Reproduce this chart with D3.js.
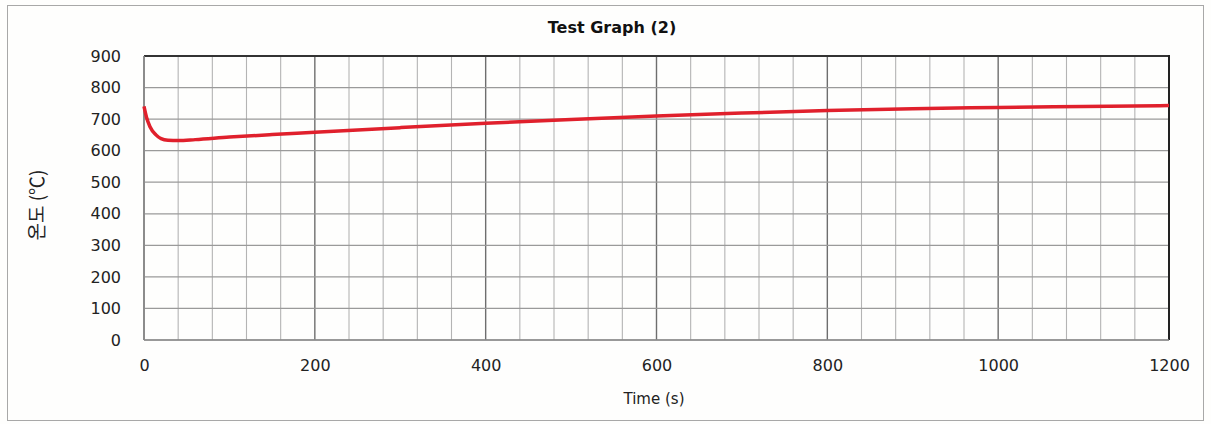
<!DOCTYPE html>
<html><head><meta charset="utf-8">
<script src="https://cdn.jsdelivr.net/npm/d3@7"></script>
<style>body{margin:0;background:#fff;} svg{display:block;}</style>
</head><body>
<svg id="c" width="1211" height="424"></svg>
<script>
const title = "Test Graph (2)";
const xLabel = "Time (s)";
const yLabel = "온도 (℃)";
const xTicks = [0, 200, 400, 600, 800, 1000, 1200];
const yTicks = [0, 100, 200, 300, 400, 500, 600, 700, 800, 900];
const time = [0, 3, 7, 14, 20, 28, 40, 60, 100, 150, 200, 300, 400, 500, 600, 700, 800, 900, 1000, 1100, 1200];
const temp = [740, 705, 676, 650, 638, 633, 632, 635, 643, 651, 658, 673, 687, 699, 710, 719, 727, 733, 737, 740, 743];

const svg = d3.select("#c");
const m = {l:144, r:1169, t:56, b:340};
const x = d3.scaleLinear().domain([0,1200]).range([m.l, m.r]);
const y = d3.scaleLinear().domain([0,900]).range([m.b, m.t]);
const font = "'DejaVu Sans', sans-serif";

svg.append("rect").attr("x",0).attr("y",0).attr("width",1211).attr("height",424).attr("fill","#fefefd");
svg.append("rect").attr("x",7.5).attr("y",5.5).attr("width",1196).attr("height",415)
  .attr("fill","none").attr("stroke","#a8a8a8").attr("stroke-width",1);

const g = svg.append("g");
g.selectAll("line.vmin").data(d3.range(0,1201,40)).join("line")
  .attr("x1",d=>x(d)).attr("x2",d=>x(d)).attr("y1",m.t).attr("y2",m.b)
  .attr("stroke", d=> d%200===0 ? "#6e6e6e" : "#b4b4b4")
  .attr("stroke-width", d=> d%200===0 ? 1.4 : 1.1);
g.selectAll("line.h").data(yTicks).join("line")
  .attr("x1",m.l).attr("x2",m.r).attr("y1",d=>y(d)).attr("y2",d=>y(d))
  .attr("stroke","#9a9a9a").attr("stroke-width",1.2);
svg.append("line").attr("x1",m.l).attr("x2",m.r).attr("y1",m.t).attr("y2",m.t).attr("stroke","#333").attr("stroke-width",2);
svg.append("line").attr("x1",m.r).attr("x2",m.r).attr("y1",m.t-1).attr("y2",m.b).attr("stroke","#222").attr("stroke-width",2);
svg.append("line").attr("x1",m.l).attr("x2",m.r).attr("y1",m.b).attr("y2",m.b).attr("stroke","#888").attr("stroke-width",1.5);
svg.append("line").attr("x1",m.l).attr("x2",m.l).attr("y1",m.t).attr("y2",m.b).attr("stroke","#888").attr("stroke-width",1.5);

const xa = svg.append("g").attr("transform",`translate(0,${m.b})`)
  .call(d3.axisBottom(x).tickValues(xTicks).tickFormat(d3.format("d")).tickSize(0).tickPadding(20));
xa.select(".domain").remove();
xa.selectAll("text").attr("font-family",font).attr("font-size",16).attr("fill","#222");
const ya = svg.append("g").attr("transform",`translate(${m.l},0)`)
  .call(d3.axisLeft(y).tickValues(yTicks).tickFormat(d3.format("d")).tickSize(0).tickPadding(23));
ya.select(".domain").remove();
ya.selectAll("text").attr("font-family",font).attr("font-size",16).attr("fill","#222");

const line = d3.line().x((d,i)=>x(time[i])).y((d,i)=>y(temp[i])).curve(d3.curveMonotoneX);
svg.append("path").datum(temp).attr("d",line).attr("fill","none")
  .attr("stroke","#e0202c").attr("stroke-width",3.5).attr("stroke-linejoin","round");

svg.append("text").attr("x",612).attr("y",33).attr("text-anchor","middle")
  .attr("font-family",font).attr("font-weight","bold").attr("font-size",16).attr("fill","#111").text(title);
svg.append("text").attr("x",654).attr("y",404).attr("text-anchor","middle")
  .attr("font-family",font).attr("font-size",15).attr("fill","#222").text(xLabel);
svg.append("text").attr("transform","translate(44,205) rotate(-90)").attr("text-anchor","middle")
  .attr("font-family","'Noto Sans CJK KR', 'DejaVu Sans', sans-serif").attr("font-size",19).attr("fill","#222").text(yLabel);
</script>
</body></html>
